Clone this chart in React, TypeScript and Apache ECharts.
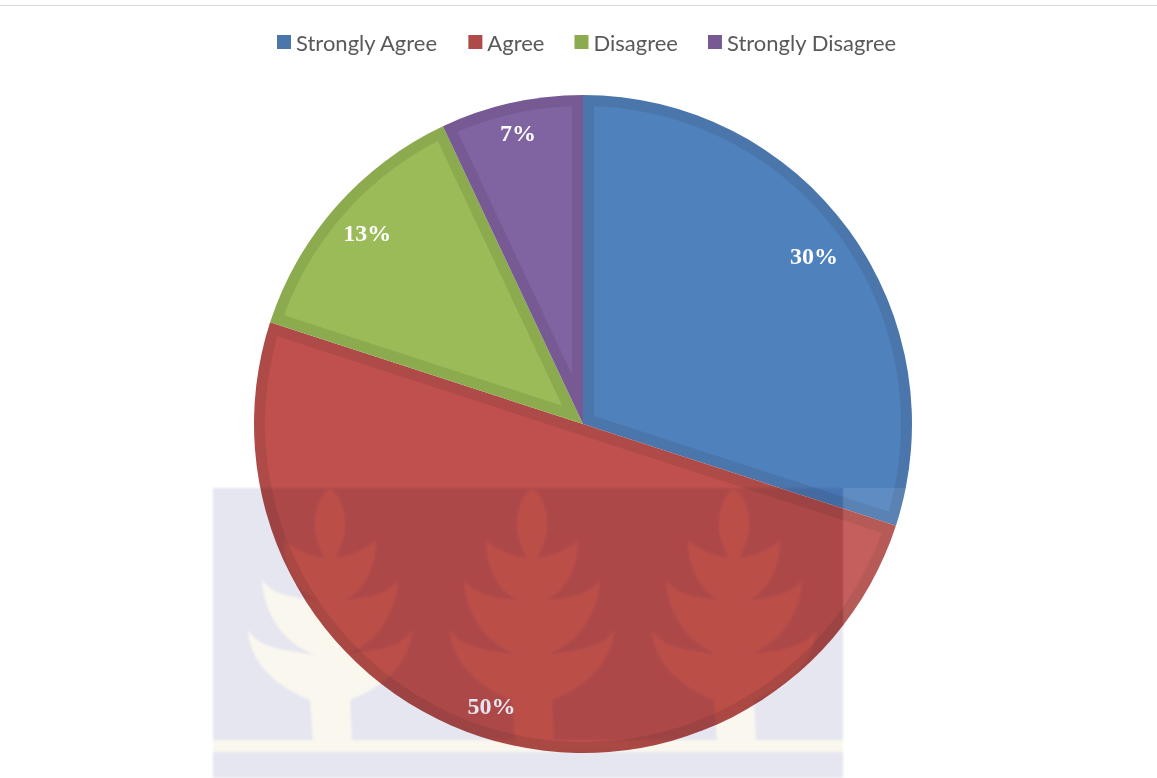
import React, { useEffect, useRef } from "react";
import * as echarts from "echarts";

const categories = ["Strongly Agree", "Agree", "Disagree", "Strongly Disagree"];
const sliceValues = [30, 50, 13, 7];
const innerColors = ["#4f81bd", "#c0504d", "#9bbb59", "#8064a2"];
const edgeColors = ["#4a76ac", "#ae4a47", "#8cab4f", "#775a94"];

const treeCentres = [330, 532, 734];
const labelNudges = [[-6, 4], [-1, 3], [4, 3], [-1, -5]];

function treePath(c: number): string {
  const left: number[][] = [
    [-12, 495, -18, 520, -14, 535],
    [-12, 545, -8, 552, -6, 558],
    [-16, 556, -34, 552, -46, 540],
    [-46, 565, -36, 590, -14, 600],
    [-35, 598, -58, 595, -68, 580],
    [-66, 615, -45, 645, -14, 655],
    [-40, 650, -70, 650, -82, 630],
    [-80, 660, -58, 685, -20, 700],
  ];
  let d = `M${c} 489 `;
  left.forEach((s) => {
    d += `C${c + s[0]} ${s[1]} ${c + s[2]} ${s[3]} ${c + s[4]} ${s[5]} `;
  });
  d += `L${c - 17} 740 L${c + 22} 740 L${c + 20} 700 `;
  const pts: number[][] = [[0, 489], ...left.map((s) => [s[4], s[5]])];
  for (let i = left.length - 1; i >= 0; i--) {
    const s = left[i];
    d += `C${c - s[2]} ${s[3]} ${c - s[0]} ${s[1]} ${c - pts[i][0]} ${pts[i][1]} `;
  }
  return d + "Z ";
}

const treesD = treeCentres.map(treePath).join("");
const bandD = "M213 740 L213 752 L843 752 L843 740 Z ";
const lavenderD =
  "M213 488 L843 488 L843 740 L213 740 Z " + treesD + "M213 752 L843 752 L843 778 L213 778 Z ";

echarts.graphic.registerShape("wmLavender", echarts.graphic.extendPath(lavenderD, {}));
echarts.graphic.registerShape("wmCream", echarts.graphic.extendPath(treesD + bandD, {}));

const CX = 583;
const CY = 424;
const R = 329;
const INSET = 11;

const blendCss = `
  #wm-chart svg path[fill="#e6e6f0"], #wm-chart svg path[fill="#faf7ef"] { mix-blend-mode: multiply; filter: blur(1.2px); }
`;

export default function App() {
  const ref = useRef<HTMLDivElement>(null);
  useEffect(() => {
    document.body.style.margin = "0";
    const chart = echarts.init(ref.current!, undefined, { renderer: "svg" });
    const total = sliceValues.reduce((a, b) => a + b, 0);
    const pt = (r: number, a: number) => [CX + r * Math.sin(a), CY - r * Math.cos(a)];
    chart.setOption({
      animation: false,
      backgroundColor: "#ffffff",
      legend: {
        left: 272,
        top: 26,
        itemWidth: 14,
        itemHeight: 14,
        itemGap: 30,
        icon: "rect",
        data: categories,
        selectedMode: false,
        textStyle: { fontFamily: "Lato", fontSize: 22, color: "#595959" },
      },
      series: [
        {
          type: "pie",
          name: "edge",
          center: [CX, CY],
          radius: [0, R],
          startAngle: 90,
          clockwise: true,
          silent: true,
          label: { show: false },
          labelLine: { show: false },
          data: categories.map((n, i) => ({
            name: n,
            value: sliceValues[i],
            itemStyle: { color: edgeColors[i] },
          })),
        },
        {
          type: "custom",
          coordinateSystem: "none",
          silent: true,
          z: 3,
          data: sliceValues.map((v) => [v]),
          renderItem: (params: any, api: any) => {
            const i = params.dataIndex;
            const before = sliceValues.slice(0, i).reduce((a, b) => a + b, 0);
            const a0 = (before / total) * Math.PI * 2;
            const a1 = a0 + (api.value(0) / total) * Math.PI * 2;
            const half = (a1 - a0) / 2;
            const r = R - INSET;
            const d = Math.asin(INSET / r);
            const points = [pt(INSET / Math.sin(half), a0 + half)];
            const steps = 160;
            for (let k = 0; k <= steps; k++) {
              points.push(pt(r, a0 + d + ((a1 - a0 - 2 * d) * k) / steps));
            }
            return { type: "polygon", shape: { points }, style: { fill: innerColors[i] } };
          },
        },
        {
          type: "pie",
          name: "labels",
          center: [CX, CY],
          radius: [251, R],
          startAngle: 90,
          clockwise: true,
          silent: true,
          z: 4,
          itemStyle: { color: "rgba(0,0,0,0)" },
          labelLine: { show: false },
          label: {
            show: true,
            position: "inside",
            formatter: "{c}%",
            fontFamily: "Liberation Serif",
            fontWeight: "bold",
            fontSize: 24,
            color: "#ffffff",
          },
          data: categories.map((n, i) => ({
            name: n,
            value: sliceValues[i],
            label: { offset: labelNudges[i] },
          })),
        },
      ],
      graphic: [
        {
          type: "rect",
          z: 100,
          shape: { x: 0, y: 5, width: 1157, height: 1 },
          style: { fill: "#d9d9d9" },
          silent: true,
        },
        {
          type: "rect",
          z: 100,
          shape: { x: 843, y: 488, width: 110, height: 290 },
          style: { fill: "rgba(255,255,255,0.09)" },
          silent: true,
        },
        {
          type: "wmLavender",
          z: 101,
          silent: true,
          style: { fill: "#e6e6f0" },
        },
        {
          type: "wmCream",
          z: 101,
          silent: true,
          style: { fill: "#faf7ef" },
        },
      ],
    });
    return () => chart.dispose();
  }, []);
  return (
    <>
      <style>{blendCss}</style>
      <div id="wm-chart" ref={ref} style={{ position: "fixed", left: 0, top: 0, width: 1157, height: 778 }} />
    </>
  );
}
